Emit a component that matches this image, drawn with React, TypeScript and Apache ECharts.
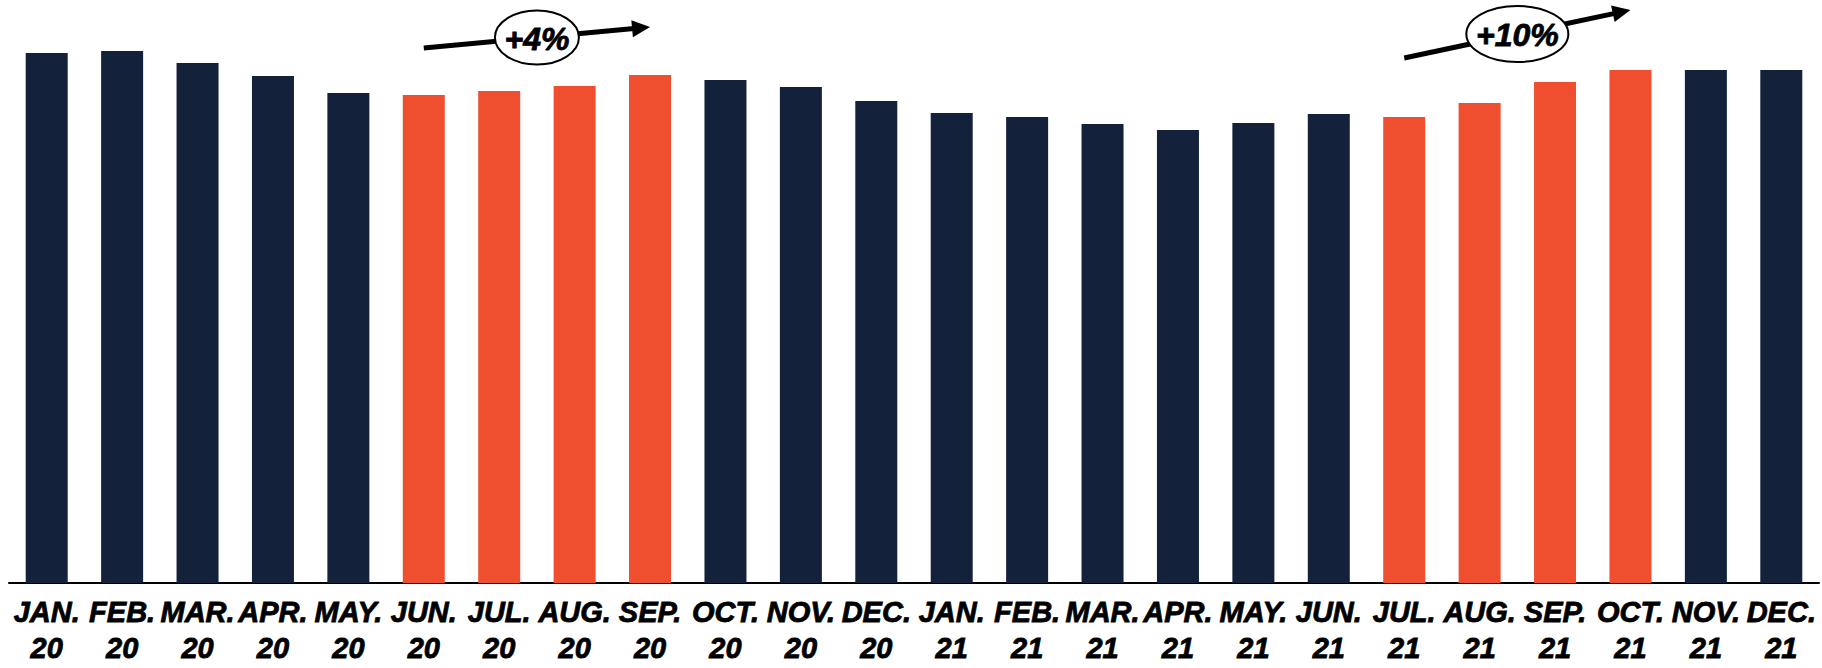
import { useEffect, useRef } from "react";
import * as echarts from "echarts";

// Monthly values, Jan 2020 – Dec 2021
const months = [
  "JAN.", "FEB.", "MAR.", "APR.", "MAY.", "JUN.", "JUL.", "AUG.", "SEP.", "OCT.", "NOV.", "DEC.",
  "JAN.", "FEB.", "MAR.", "APR.", "MAY.", "JUN.", "JUL.", "AUG.", "SEP.", "OCT.", "NOV.", "DEC.",
];
const years = [
  "20", "20", "20", "20", "20", "20", "20", "20", "20", "20", "20", "20",
  "21", "21", "21", "21", "21", "21", "21", "21", "21", "21", "21", "21",
];
const values = [
  530, 532, 520, 507, 490, 488, 492, 497, 508, 503, 496, 482,
  470, 466, 459, 453, 460, 469, 466, 480, 501, 513, 513, 513,
];
// Indices of the months that belong to a growth stretch
const highlighted = [5, 6, 7, 8, 18, 19, 20, 21];

// Growth call-outs: from month index to month index, with the label
const trends = [
  { from: 5, to: 8, label: "+4%" },
  { from: 18, to: 21, label: "+10%" },
];

const NAVY = "#13213a";
const ORANGE = "#f04f2f";
const LABEL_FONT = "Liberation Sans";

// Pixel lift of each arrow's start / end above its bar top, and the call-out ellipse radii
const arrowLift = [
  { start: 47, end: 48, rx: 42, ry: 27 },
  { start: 59, end: 60, rx: 51, ry: 28 },
];

export default function App() {
  const ref = useRef<HTMLDivElement>(null);

  useEffect(() => {
    if (!ref.current) return;
    const chart = echarts.init(ref.current, undefined, { renderer: "svg" });
    const categories = months.map((m, i) => `${m}\n${years[i]}`);

    chart.setOption({
      animation: false,
      backgroundColor: "#ffffff",
      grid: { left: 9, right: 3, top: 33, bottom: 85, containLabel: false },
      xAxis: {
        type: "category",
        data: categories,
        boundaryGap: true,
        axisLine: { show: true, lineStyle: { color: "#000000", width: 2 } },
        axisTick: { show: false },
        axisLabel: {
          interval: 0,
          margin: 11,
          color: "#000000",
          fontFamily: LABEL_FONT,
          fontWeight: "bold",
          fontStyle: "italic",
          fontSize: 29,
          lineHeight: 36,
          textBorderColor: "#000000",
          textBorderWidth: 0.8,
        },
      },
      yAxis: { type: "value", min: 0, max: 550, show: false, splitLine: { show: false } },
      series: [
        {
          type: "bar",
          barWidth: 42,
          data: values.map((v, i) => ({
            value: v,
            itemStyle: { color: highlighted.includes(i) ? ORANGE : NAVY },
          })),
        },
      ],
    });

    // Trend arrows with an oval percentage badge at their midpoint
    const elements: any[] = [];
    trends.forEach((t, k) => {
      const lift = arrowLift[k];
      const p0 = chart.convertToPixel({ seriesIndex: 0 }, [t.from, values[t.from]]) as number[];
      const p1 = chart.convertToPixel({ seriesIndex: 0 }, [t.to, values[t.to]]) as number[];
      const x1 = p0[0];
      const y1 = p0[1] - lift.start;
      const x2 = p1[0];
      const y2 = p1[1] - lift.end;
      const dx = x2 - x1;
      const dy = y2 - y1;
      const len = Math.hypot(dx, dy);
      const ux = dx / len;
      const uy = dy / len;
      const headLen = 18;
      const headHalf = 8.5;
      const bx = x2 - ux * headLen;
      const by = y2 - uy * headLen;
      const nx = -uy;
      const ny = ux;
      const cx = (x1 + x2) / 2;
      const cy = (y1 + y2) / 2;
      elements.push(
        {
          type: "line",
          z: 10,
          shape: { x1, y1, x2: bx + ux * 2, y2: by + uy * 2 },
          style: { stroke: "#000000", lineWidth: 5 },
        },
        {
          type: "polygon",
          z: 10,
          shape: {
            points: [
              [x2, y2],
              [bx + nx * headHalf, by + ny * headHalf],
              [bx - nx * headHalf, by - ny * headHalf],
            ],
          },
          style: { fill: "#000000" },
        },
        {
          type: "ellipse",
          z: 11,
          shape: { cx, cy, rx: lift.rx, ry: lift.ry },
          style: { fill: "#ffffff", stroke: "#000000", lineWidth: 2 },
        },
        {
          type: "text",
          z: 12,
          x: cx,
          y: cy + 1,
          style: {
            text: t.label,
            fill: "#000000",
            fontFamily: LABEL_FONT,
            fontWeight: "bold",
            fontStyle: "italic",
            fontSize: 32,
            stroke: "#000000",
            lineWidth: 0.8,
            align: "center",
            verticalAlign: "middle",
            textAlign: "center",
            textVerticalAlign: "middle",
          },
        }
      );
    });
    chart.setOption({ graphic: { elements } });

    return () => chart.dispose();
  }, []);

  return (
    <div
      ref={ref}
      style={{ position: "absolute", left: 0, top: 0, width: 1822, height: 668, background: "#fff" }}
    />
  );
}
